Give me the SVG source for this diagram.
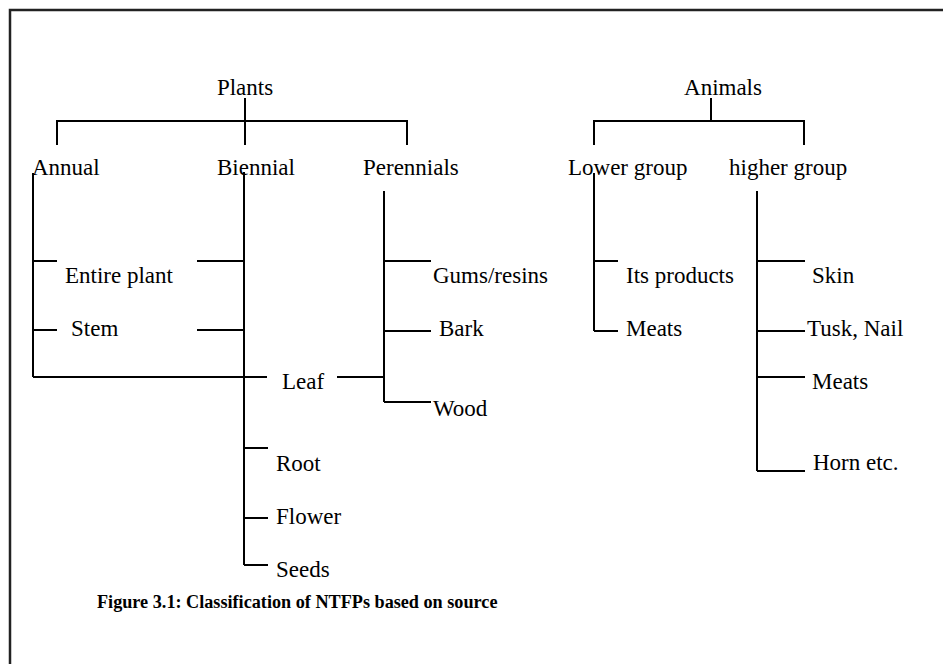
<svg xmlns="http://www.w3.org/2000/svg" width="943" height="664" viewBox="0 0 943 664">
<style>
text{font-family:"Liberation Serif","Times New Roman",serif;font-size:23px;fill:#000}
.cap{font-weight:bold;font-size:18.2px}
line,polyline{stroke:#000;stroke-width:2;fill:none}
.frame{stroke:#222;stroke-width:2.5}
</style>
<rect width="943" height="664" fill="#fff"/>
<g id="frame"><polyline class="frame" points="10,664 10,10 943,10"/></g>
<g id="connectors">
<line x1="245" y1="98" x2="245" y2="145"/>
<polyline points="57,145 57,121 407,121 407,145"/>
<line x1="33" y1="173" x2="33" y2="377"/>
<line x1="33" y1="261" x2="57" y2="261"/>
<line x1="33" y1="330" x2="57" y2="330"/>
<line x1="33" y1="377" x2="267" y2="377"/>
<line x1="244" y1="172" x2="244" y2="565"/>
<line x1="197" y1="261" x2="244" y2="261"/>
<line x1="197" y1="330" x2="244" y2="330"/>
<line x1="244" y1="448" x2="268" y2="448"/>
<line x1="244" y1="518" x2="268" y2="518"/>
<line x1="244" y1="565" x2="268" y2="565"/>
<line x1="384" y1="191" x2="384" y2="402"/>
<line x1="384" y1="261" x2="431" y2="261"/>
<line x1="384" y1="331" x2="431" y2="331"/>
<line x1="337" y1="377" x2="384" y2="377"/>
<line x1="384" y1="402" x2="431" y2="402"/>
<line x1="711" y1="98" x2="711" y2="121"/>
<polyline points="594,145 594,121 804,121 804,145"/>
<line x1="594" y1="173" x2="594" y2="331"/>
<line x1="594" y1="261" x2="618" y2="261"/>
<line x1="594" y1="331" x2="618" y2="331"/>
<line x1="757" y1="191" x2="757" y2="471"/>
<line x1="757" y1="261" x2="805" y2="261"/>
<line x1="757" y1="331" x2="805" y2="331"/>
<line x1="757" y1="377" x2="805" y2="377"/>
<line x1="757" y1="471" x2="805" y2="471"/>
</g>
<g id="plants"><text x="245" y="95" text-anchor="middle">Plants</text></g>
<g id="annual"><text x="32" y="175">Annual</text></g>
<g id="biennial"><text x="217" y="175">Biennial</text></g>
<g id="perennials"><text x="363" y="175">Perennials</text></g>
<g id="entire-plant"><text x="65" y="283">Entire plant</text></g>
<g id="stem"><text x="71" y="336">Stem</text></g>
<g id="leaf"><text x="282" y="389">Leaf</text></g>
<g id="root"><text x="276" y="471">Root</text></g>
<g id="flower"><text x="276" y="524">Flower</text></g>
<g id="seeds"><text x="276" y="577">Seeds</text></g>
<g id="gums"><text x="433" y="283">Gums/resins</text></g>
<g id="bark"><text x="439" y="336">Bark</text></g>
<g id="wood"><text x="433" y="416">Wood</text></g>
<g id="animals"><text x="723" y="95" text-anchor="middle">Animals</text></g>
<g id="lower"><text x="568" y="175">Lower group</text></g>
<g id="higher"><text x="729" y="175">higher group</text></g>
<g id="its-products"><text x="626" y="283">Its products</text></g>
<g id="meats-lower"><text x="626" y="336">Meats</text></g>
<g id="skin"><text x="812" y="283">Skin</text></g>
<g id="tusk"><text x="807" y="336">Tusk, Nail</text></g>
<g id="meats-higher"><text x="812" y="389">Meats</text></g>
<g id="horn"><text x="813" y="470">Horn etc.</text></g>
<g id="caption"><text class="cap" x="97" y="608">Figure 3.1: Classification of NTFPs based on source</text></g>
</svg>
